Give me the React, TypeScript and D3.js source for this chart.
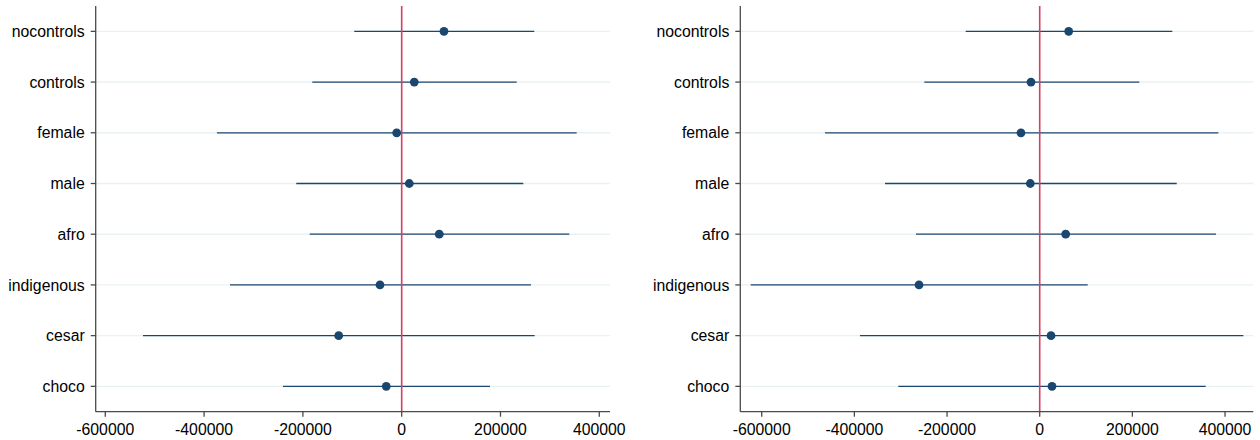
import React from "react";
import * as d3 from "d3";

const categories = ["nocontrols", "controls", "female", "male", "afro", "indigenous", "cesar", "choco"];

const leftEst = [85600, 25500, -10100, 15400, 76100, -43900, -127500, -31200];
const leftLo = [-96000, -181000, -374000, -213400, -186200, -347600, -523700, -240300];
const leftHi = [268400, 232800, 354200, 246200, 339300, 261700, 269200, 178700];

const rightEst = [62600, -18800, -40400, -20300, 56100, -260500, 24400, 26500];
const rightLo = [-159700, -249100, -463400, -333900, -267000, -623800, -387900, -305200];
const rightHi = [286200, 215000, 385500, 295700, 380500, 103600, 439500, 358300];

const xTicks = [-600000, -400000, -200000, 0, 200000, 400000];

const NAVY = "#1a476f";
const RED = "#d43f63";
const GRID = "#eaf1f3";
const AXIS = "#4a4a4a";
const FONT = "'Liberation Sans', Arial, Helvetica, sans-serif";

type PanelProps = {
  x0: number;
  x1: number;
  domain: [number, number];
  est: number[];
  lo: number[];
  hi: number[];
};

const TOP = 6;
const BOTTOM = 411.7;

function Panel({ x0, x1, domain, est, lo, hi }: PanelProps) {
  const x = d3.scaleLinear().domain(domain).range([x0, x1]);
  const y = d3.scalePoint<string>().domain(categories).range([TOP, BOTTOM]).padding(0.5);
  return (
    <g>
      {categories.map((c) => (
        <line key={"g" + c} x1={x0} x2={x1} y1={y(c)} y2={y(c)} stroke={GRID} strokeWidth={1.4} />
      ))}
      {categories.map((c, i) => (
        <line key={"ci" + c} x1={x(lo[i])} x2={x(hi[i])} y1={y(c)} y2={y(c)} stroke={NAVY} strokeWidth={1.3} />
      ))}
      <line x1={x(0)} x2={x(0)} y1={TOP} y2={BOTTOM} stroke={RED} strokeWidth={1.6} />
      {categories.map((c, i) => (
        <circle key={"p" + c} cx={x(est[i])} cy={y(c)} r={4.4} fill={NAVY} />
      ))}
      {/* y axis */}
      <line x1={x0} x2={x0} y1={TOP} y2={BOTTOM} stroke={AXIS} strokeWidth={1.3} />
      {categories.map((c) => (
        <g key={"yt" + c}>
          <line x1={x0 - 5} x2={x0} y1={y(c)} y2={y(c)} stroke={AXIS} strokeWidth={1.3} />
          <text x={x0 - 11} y={y(c)} dy="0.36em" textAnchor="end" fontFamily={FONT} fontSize={15.8} fill="#000">
            {c}
          </text>
        </g>
      ))}
      {/* x axis */}
      <line x1={x0} x2={x1} y1={BOTTOM} y2={BOTTOM} stroke={AXIS} strokeWidth={1.3} />
      {xTicks.map((t) => (
        <g key={"xt" + t}>
          <line x1={x(t)} x2={x(t)} y1={BOTTOM} y2={BOTTOM + 5} stroke={AXIS} strokeWidth={1.3} />
          <text x={x(t)} y={434.5} textAnchor="middle" fontFamily={FONT} fontSize={15.8} fill="#000">
            {t}
          </text>
        </g>
      ))}
    </g>
  );
}

export default function App() {
  return (
    <svg
      width={1260}
      height={440}
      style={{ position: "absolute", left: 0, top: 0, background: "#fff" }}
    >
      <rect width={1260} height={440} fill="#fff" />
      <Panel x0={95.7} x1={610} domain={[-619400, 421700]} est={leftEst} lo={leftLo} hi={leftHi} />
      <Panel x0={740.3} x1={1253.3} domain={[-646200, 461000]} est={rightEst} lo={rightLo} hi={rightHi} />
    </svg>
  );
}
